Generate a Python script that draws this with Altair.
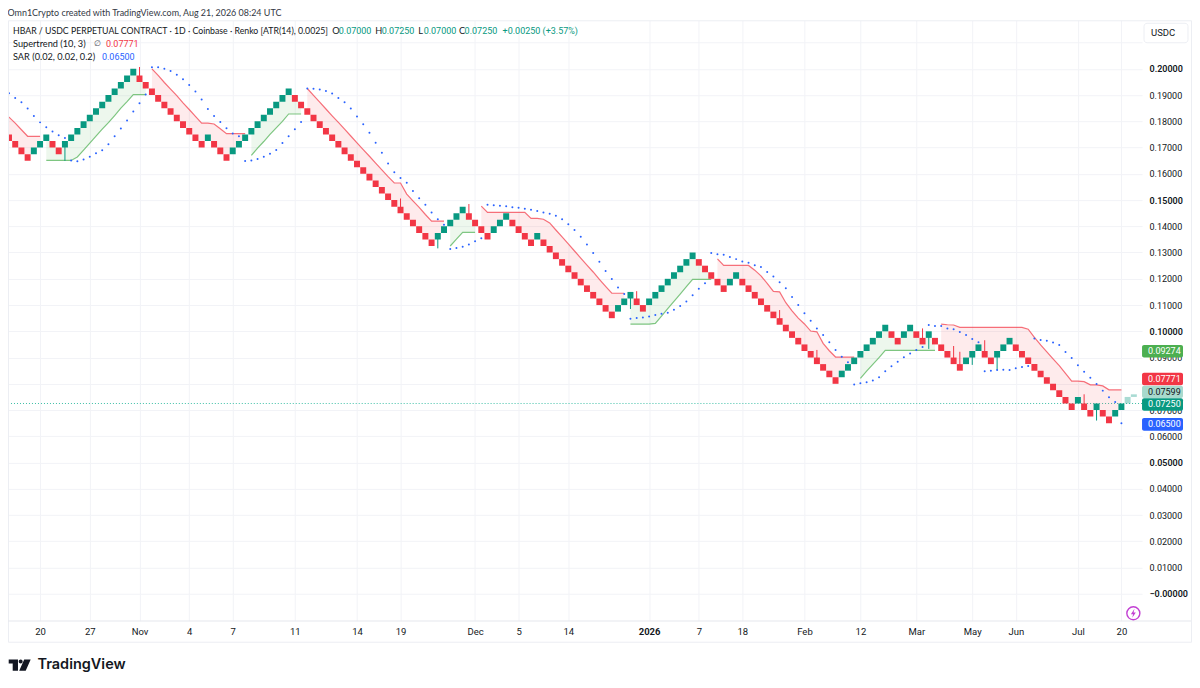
import altair as alt
import pandas as pd

brick_size = 0.0025
# brick tops in box units, index -1 onward
brick_levels = [71,
 70,69,68,67,68,69,70,69,68,69,70,71,72,73,74,75,76,77,78,79,80,
 79,78,77,76,75,74,73,72,71,70,69,
 70,69,68,67,
 68,69,70,71,72,73,74,75,76,77,
 76,75,74,73,72,71,70,69,68,67,66,65,64,63,62,61,60,59,58,57,56,55,54,
 55,56,57,58,59,
 58,57,56,55,
 56,57,58,
 57,56,55,54,
 55,
 54,53,52,51,50,49,48,47,46,45,44,43,
 44,45,46,
 45,44,
 45,46,47,48,49,50,51,52,
 51,50,49,48,47,
 48,49,
 48,47,46,45,44,43,42,41,40,39,38,37,36,35,34,33,
 34,35,36,37,38,39,40,41,
 40,39,
 40,41,
 40,39,
 40,
 39,38,37,36,35,
 36,37,38,
 37,36,
 37,38,39,
 38,37,36,35,34,33,32,31,30,29,
 30,
 29,28,
 29,
 28,27,
 28,29]

projection_low = [0.0725, 0.0750]
projection_high = [0.0750, 0.07599]

supertrend_up = [
 (6, [.1651,.1651,.1651,.1651,.1651,.1664,.1690,.1717,.1744,.1770,.1795,.1822,.1850,.1875,.1902,.1902,.1902]),
 (39, [.1670,.1698,.1723,.1750,.1775,.1800,.1828,.1828,.1828]),
 (71, [.1325,.1351,.1377,.1377,.1377]),
 (100, [.1027,.1027,.1027,.1027,.1030,.1058,.1086,.1114,.1142,.1170,.1198,.1198,.1198,.1198]),
 (137, [.0821,.0848,.0874,.0900,.0927,.0927,.0927,.0927,.0927,.0927,.0927,.0927,.0927]),
]
supertrend_down = [
 (-1, [.1841,.1816,.1793,.1768,.1743,.1743,.1743]),
 (23, [.2000,.1975,.1948,.1923,.1898,.1870,.1845,.1819,.1793,.1793,.1790,.1772,.1753,.1753,.1753,.1753]),
 (48, [.1925,.1899,.1873,.1847,.1821,.1796,.1770,.1744,.1718,.1692,.1667,.1641,.1615,.1589,.1565,.1565,.1523,.1497,.1472,.1445,.1420,.1420,.1420]),
 (76, [.1477,.1453,.1453,.1453,.1453,.1453,.1453,.1453,.1430,.1430,.1427,.1413,.1386,.1360,.1333,.1306,.1279,.1252,.1226,.1198,.1171,.1145,.1145,.1145]),
 (114, [.1276,.1251,.1251,.1251,.1251,.1251,.1233,.1211,.1183,.1152,.1150,.1109,.1078,.1050,.1028,.1001,.0998,.0954,.0926,.0902,.0902,.0902,.0902]),
 (150, [.1027,.1025,.1024,.1015,.1015,.1015,.1015,.1015,.1015,.1015,.1015,.1015,.1015,.1015,.1008,.0977,.0948,.0922,.0895,.0869,.0840,.0810,.0810,.0808,.0796,.0796,.0792,.0777,.0777,.0777]),
]

sar_values = [
 .1907,.1889,.1873,.1849,.1820,.1796,.1777,.1761,.1747,.1736,
 .1651,.1648,.1655,.1665,.1678,.1690,.1713,.1743,.1773,.1803,
 .1837,.1869,.1902,.2006,.2006,.2000,.1992,.1977,.1960,.1938,
 .1914,.1883,.1847,.1820,.1797,.1774,.1754,.1743,.1649,.1651,
 .1656,.1665,.1676,.1691,.1717,.1743,.1770,.1797,.1925,.1924,
 .1921,.1916,.1906,.1889,.1873,.1849,.1818,.1789,.1756,.1718,
 .1680,.1639,.1606,.1584,.1566,.1535,.1507,.1482,.1453,.1427,
 .1406,.1314,.1317,.1322,.1331,.1343,.1355,.1482,.1480,.1478,
 .1476,.1473,.1471,.1467,.1463,.1458,.1453,.1448,.1440,.1427,
 .1408,.1386,.1360,.1331,.1298,.1265,.1230,.1199,.1167,.1142,
 .1048,.1051,.1053,.1056,.1062,.1067,.1071,.1082,.1096,.1114,
 .1137,.1162,.1183,.1298,.1294,.1292,.1283,.1275,.1266,.1261,
 .1252,.1245,.1226,.1209,.1187,.1164,.1131,.1100,.1069,.1040,
 .1011,.0986,.0958,.0929,.0903,.0882,.0797,.0802,.0806,.0813,
 .0825,.0848,.0867,.0884,.0901,.0915,.0929,.0940,.1024,.1020,
 .1020,.1011,.1008,.0997,.0986,.0971,.0958,.0848,.0850,.0853,
 .0854,.0853,.0859,.0864,.0868,.0973,.0967,.0964,.0957,.0948,
 .0921,.0898,.0871,.0846,.0823,.0799,.0774,.0749,.0731,.0650,
]

wick_index = [21,63,74,101,124,130,147,152,153,157,173,9,69,100,148,155,159,175]
wick_price = [.2007,.1506,.1485,.1153,.1081,.0929,.1011,.0944,.0922,.0966,.0760,
              .1649,.1316,.1085,.0933,.0872,.0853,.0660]

time_index = [5,13,21,29,36,46,56,63,75,82,90,103,111,118,128,137,146,155,162,172,179]
time_labels = ["20","27","Nov","4","7","11","14","19","Dec","5","14","2026","7","18","Feb","12","Mar","May","Jun","Jul","20"]
price_ticks = [0.0,0.01,0.02,0.03,0.04,0.05,0.06,0.07,0.08,0.09,0.10,0.11,0.12,0.13,0.14,0.15,0.16,0.17,0.18,0.19,0.20,0.21]

GREEN = "#089981"; RED = "#f23645"; BLUE = "#2962ff"; INK = "#131722"; GRID = "#f2f3f7"
FONT = "Roboto"
TEXTFONT = "Lato"
NUM = 9.0
TXT = 9.2
BW = 0.48
rows = []
for k, lv in enumerate(brick_levels):
    i = k - 1
    top = round(lv * brick_size, 4)
    up = k > 0 and lv > brick_levels[k - 1]
    rows.append({"i": i, "x0": i - BW, "x1": i + BW, "lo": round(top - brick_size, 4), "hi": top,
                 "mid": top - brick_size / 2, "dir": "up" if up else "down"})
bricks = pd.DataFrame(rows)
mids = dict(zip(bricks.i, bricks.mid))

def st_frame(segments):
    out = []
    for sid, (start, vals) in enumerate(segments):
        for n, v in enumerate(vals):
            out.append({"i": start + n, "st": v, "mid": mids[start + n], "seg": sid})
    return pd.DataFrame(out)

up_df = st_frame(supertrend_up)
down_df = st_frame(supertrend_down)
sar_df = pd.DataFrame({"i": list(range(len(sar_values))), "sar": sar_values})
wick_df = pd.DataFrame({"i": wick_index, "p": wick_price, "mid": [mids[i] for i in wick_index]})
proj_df = pd.DataFrame({"i": [180, 181], "lo": projection_low, "hi": projection_high})
proj_df["x0"] = proj_df.i - BW
proj_df["x1"] = proj_df.i + BW

xs = alt.Scale(domain=[-0.16, 182.32], nice=False, zero=False)
ys = alt.Scale(domain=[-0.01028, 0.2185], nice=False, zero=False)
label_expr = "['" + "','".join(time_labels) + "'][indexof(" + str(time_index) + ", datum.value)]"
x_axis = alt.Axis(values=time_index, labelExpr=label_expr, grid=True, gridColor=GRID, domain=False, ticks=False,
                  labelFont=FONT, labelFontSize=NUM + 0.5, labelColor=INK, labelPadding=6, title=None, labelFlush=False,
                  labelOverlap=False, labelFontWeight={"condition": {"test": "datum.value == 103", "value": "bold"}, "value": "normal"})
y_axis = alt.Axis(orient="right", values=price_ticks, grid=True, gridColor=GRID, domain=False, ticks=False, title=None,
                  labelExpr="(datum.value > 0.205 || (datum.value > 0.075 && datum.value < 0.085)) ? '' : (datum.value == 0 ? '\u22120.00000' : format(datum.value, '.5f'))",
                  labelFont=FONT, labelFontSize=NUM, labelColor=INK, labelPadding=7, labelOverlap=False, labelFlush=False,
                  labelFontWeight={"condition": {"test": "abs(datum.value*20 - round(datum.value*20)) < 0.001", "value": 600}, "value": "normal"})

def PX(f): return alt.X(f, scale=xs, axis=x_axis)
def PY(f): return alt.Y(f, scale=ys, axis=y_axis)

blank = alt.Data(values=[{"a": 1}])
W0, H0 = 8, 20

def ix(v): return alt.value(v - W0)
def iy(v): return alt.value(v - H0)

def txt(s, x, y, color=INK, size=TXT, weight="normal", align="left", font=TEXTFONT):
    return alt.Chart(alt.Data(values=[{"t": s}])).mark_text(
        align=align, baseline="middle", color=color, fontSize=size, fontWeight=weight, font=font
    ).encode(text="t:N", x=ix(x), y=iy(y))

def box(x0, x1, y0, y1, **kw):
    return alt.Chart(blank).mark_rect(**kw).encode(x=ix(x0), x2=ix(x1), y=iy(y0), y2=iy(y1))

last = alt.Chart(alt.Data(values=[{"p": 0.0725}])).mark_rule(color="#3dbfa6", strokeDash=[1, 2], opacity=1, strokeWidth=1).encode(
    y=PY("p:Q"))

def st_layers(df, line, fill):
    return [
        alt.Chart(df).mark_area(color=fill, opacity=0.1, clip=True).encode(
            x=PX("i:Q"), y=PY("st:Q"), y2="mid:Q", detail="seg:N"),
        alt.Chart(df).mark_line(color=line, strokeWidth=1.2, opacity=0.7, clip=True).encode(
            x=PX("i:Q"), y=PY("st:Q"), detail="seg:N"),
    ]

wicks = alt.Chart(wick_df).mark_rule(strokeWidth=1).encode(
    x=PX("i:Q"), y=PY("p:Q"), y2="mid:Q",
    color=alt.condition("datum.p > datum.mid", alt.value(RED), alt.value(GREEN)))
brick_marks = alt.Chart(bricks).mark_rect(clip=True).encode(
    x=PX("x0:Q"), x2="x1:Q",
    y=PY("lo:Q"), y2="hi:Q",
    color=alt.Color("dir:N", scale=alt.Scale(domain=["up", "down"], range=[GREEN, RED]), legend=None))
proj = alt.Chart(proj_df).mark_rect(color=GREEN, opacity=0.35).encode(
    x=PX("x0:Q"), x2="x1:Q",
    y=PY("lo:Q"), y2="hi:Q")
sar = alt.Chart(sar_df).mark_circle(color=BLUE, size=4, opacity=1).encode(
    x=PX("i:Q"), y=PY("sar:Q"))

layers = [last] + st_layers(up_df, "#4caf50", "#4caf50") + st_layers(down_df, RED, RED) + [wicks, brick_marks, proj, sar]

# chrome
layers += [
    box(8.5, 1192.5, 20.5, 642.5, fill="transparent", stroke="#eceef3", strokeWidth=1),
    box(8, 1192, 620.7, 621.7, fill="#e6e8ee"),
    box(1145, 1189, 23, 42.5, fill="#ffffff", stroke="#eceef3", strokeWidth=1, cornerRadius=3),
    txt("USDC", 1152, 32.5, size=9.5, font=FONT),
]

# badges
for label, y0, y1, fill, tc in [
    ("0.09274", 345, 357.5, "#4caf50", "#ffffff"),
    ("0.07771", 372.8, 385.2, RED, "#ffffff"),
    ("0.07599", 385.7, 398, "#a8dacd", INK),
    ("0.07250", 398.3, 410.8, GREEN, "#ffffff"),
    ("0.06500", 418, 430.8, BLUE, "#ffffff"),
]:
    layers.append(box(1143, 1184, y0, y1, fill=fill, cornerRadius=2))
    layers.append(txt(label, 1149, (y0 + y1) / 2, color=tc, size=NUM, font=FONT))

# header texts
layers += [
    txt("Omn1Crypto created with TradingView.com, Aug 21, 2026 08:24 UTC", 7.5, 13, color="#333844", size=8.95),
    txt("HBAR / USDC PERPETUAL CONTRACT \u00b7 1D \u00b7 Coinbase \u00b7 Renko [ATR(14), 0.0025]", 13, 31, size=8.75),
    txt("O", 332.5, 31), txt("0.07000", 339, 31, color=GREEN, size=NUM, font=FONT),
    txt("H", 375.5, 31), txt("0.07250", 382, 31, color=GREEN, size=NUM, font=FONT),
    txt("L", 418.5, 31), txt("0.07000", 424, 31, color=GREEN, size=NUM, font=FONT),
    txt("C", 459.5, 31), txt("0.07250", 465, 31, color=GREEN, size=NUM, font=FONT),
    txt("+0.00250 (+3.57%)", 503, 31, color=GREEN, size=NUM, font=FONT),
    txt("Supertrend (10, 3)", 13, 44),
    txt("\u2205", 94, 44, color="#50535e", font="DejaVu Sans", size=8),
    txt("0.07771", 106, 44, color=RED, size=NUM, font=FONT),
    txt("SAR (0.02, 0.02, 0.2)", 13, 57),
    txt("0.06500", 102, 57, color=BLUE, size=NUM, font=FONT),
]

# bolt icon
layers += [
    alt.Chart(blank).mark_point(shape="circle", size=170, stroke="#c23fd3", strokeWidth=1.4, fill="#ffffff", filled=False, opacity=1)
       .encode(x=ix(1134.3), y=iy(613.5)),
    alt.Chart(blank).mark_point(shape="M0.25,-1 L-0.55,0.2 L-0.05,0.2 L-0.25,1 L0.55,-0.2 L0.05,-0.2 Z", size=80,
                                filled=True, color="#c23fd3", opacity=1).encode(x=ix(1134.3), y=iy(613.5)),
]

# logo
layers += [
    alt.Chart(blank).mark_point(
        shape="M-1,-.51 L-.155,-.51 L-.155,.52 L-.636,.52 L-.636,-.146 L-1,-.146 Z "
              "M-.09,-.33 A.18,.18 0 1 0 .27,-.33 A.18,.18 0 1 0 -.09,-.33 Z "
              "M.41,-.51 L1,-.51 L.545,.52 L-.045,.52 Z",
        size=484, filled=True, color=INK, opacity=1, strokeWidth=0).encode(x=ix(19.7), y=iy(665.3)),
    txt("TradingView", 37.5, 665.3, size=14.5, weight=600, font="Inter"),
]

chart = alt.layer(*layers).properties(
    width=1135, height=601,
    padding={"left": 0, "top": 12, "right": 50, "bottom": 55},
    autosize=alt.AutoSizeParams(type="none"),
    background="#ffffff",
).configure_view(stroke=None)

chart.save("out.html", embed_options={"renderer": "svg", "actions": False})
